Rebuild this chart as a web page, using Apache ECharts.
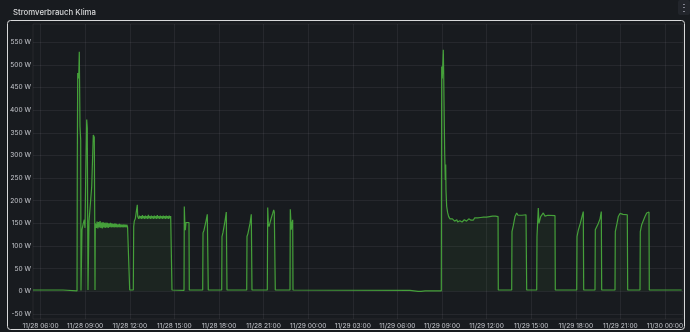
<!DOCTYPE html>
<html><head><meta charset="utf-8">
<script src="https://cdn.jsdelivr.net/npm/echarts@6/dist/echarts.min.js"></script>
<style>html,body{margin:0;padding:0;background:#181b1f;}#c{width:690px;height:332px;}</style>
</head><body><div id="c"></div>
<script>
const panelTitle = 'Stromverbrauch Klima';
const unit = ' W';
// x axis in hours since 11/28 00:00
const tickHours = [6,9,12,15,18,21,24,27,30,33,36,39,42,45,48];
const tickLabels = ['11/28 06:00','11/28 09:00','11/28 12:00','11/28 15:00','11/28 18:00','11/28 21:00','11/29 00:00','11/29 03:00','11/29 06:00','11/29 09:00','11/29 12:00','11/29 15:00','11/29 18:00','11/29 21:00','11/30 00:00'];
const yTicks = [-50,0,50,100,150,200,250,300,350,400,450,500,550];

const morning28 = [[5.489,3],[7.507,3],[7.527,1],[8.449,1],[8.469,290],[8.496,482],[8.563,470],[8.603,529],[8.650,364],[8.697,334],[8.717,2],[8.765,3],[8.785,136],[8.872,150],[8.939,158],[8.986,140],[9.034,253],[9.101,379],[9.141,360],[9.188,3],[9.235,3],[9.256,154],[9.370,158],[9.437,231],[9.545,345],[9.612,340],[9.639,173],[9.659,3],[9.679,150],[9.706,154]];
const block28a = [[9.72,153],[9.75,140],[9.80,154],[9.85,139],[9.90,153],[9.95,141],[10.00,155],[10.05,140],[10.10,152],[10.15,139],[10.20,153],[10.25,141],[10.30,151],[10.35,140],[10.40,152],[10.45,141],[10.50,151],[10.55,140],[10.60,150],[10.65,142],[10.70,151],[10.75,141],[10.80,150],[10.85,142],[10.90,149],[10.95,141],[11.00,150],[11.05,142],[11.10,149],[11.15,141],[11.20,148],[11.25,142],[11.30,149],[11.35,141],[11.40,148],[11.45,142],[11.50,147],[11.55,141],[11.60,148],[11.65,142],[11.70,147],[11.75,141],[11.80,147],[11.85,142],[11.90,146],[11.95,142],[11.966,143],[11.993,3],[12.235,3]];
const block28b = [[12.262,143],[12.302,155],[12.369,160],[12.463,162],[12.504,191],[12.531,165],[12.55,166],[12.60,160],[12.65,167],[12.70,161],[12.75,166],[12.80,160],[12.85,168],[12.90,161],[12.95,166],[13.00,160],[13.05,167],[13.10,161],[13.15,166],[13.20,160],[13.25,169],[13.30,161],[13.35,166],[13.40,160],[13.45,167],[13.50,161],[13.55,166],[13.60,160],[13.65,167],[13.70,161],[13.75,166],[13.80,160],[13.85,168],[13.90,161],[13.95,166],[14.00,160],[14.05,167],[14.10,161],[14.15,166],[14.20,160],[14.25,167],[14.30,161],[14.35,166],[14.40,160],[14.45,167],[14.50,161],[14.55,166],[14.60,160],[14.65,167],[14.70,161],[14.75,166],[14.80,162],[14.818,164],[14.838,3]];
const cycles28 = [[14.872,1],[15.646,2],[15.666,187],[15.713,140],[15.733,135],[15.780,152],[15.982,152],[16.002,3],[16.903,3],[16.924,129],[16.991,135],[17.125,155],[17.213,170],[17.260,173],[17.280,3],[18.181,3],[18.201,121],[18.269,130],[18.403,155],[18.491,175],[18.518,178],[18.538,3],[19.863,3],[19.883,121],[19.950,128],[20.085,150],[20.172,170],[20.199,174],[20.219,3],[21.249,3],[21.276,185],[21.316,150],[21.363,143],[21.498,160],[21.612,172],[21.679,180],[21.719,175],[21.766,176],[21.787,3],[22.776,3],[22.796,181],[22.863,136],[22.910,150],[22.957,158],[22.977,3]];
const night = [[30.847,2],[30.98,1],[31.39,0],[31.52,-1],[31.59,0],[31.86,1],[32.952,1]];
const morning29 = [[32.979,496],[33.020,470],[33.087,533],[33.114,480],[33.134,423],[33.181,305],[33.221,246],[33.248,280],[33.268,224],[33.315,187],[33.383,173],[33.450,165],[33.537,160],[33.6,162],[33.65,157],[33.7,160],[33.75,156],[33.8,160],[33.85,155],[33.9,158],[33.95,154],[34.0,158],[34.05,153],[34.1,156],[34.15,152],[34.2,156],[34.25,152],[34.3,156],[34.35,153],[34.4,157],[34.45,153],[34.5,158],[34.55,154],[34.6,158],[34.65,155],[34.7,159],[34.75,156],[34.8,160],[34.85,156],[34.9,160],[34.95,157],[35.0,161],[35.1,157],[35.2,162],[35.3,158],[35.4,162],[35.5,159],[35.6,163],[35.7,159],[35.8,164],[35.9,160],[36.0,164],[36.1,161],[36.2,165],[36.3,161],[36.4,166],[36.5,162],[36.6,166],[36.7,163],[36.77,165],[36.786,3]];
const cycles29 = [[37.687,3],[37.707,132],[37.795,145],[37.910,165],[38.024,173],[38.112,168],[38.246,170],[38.381,168],[38.650,169],[38.697,3],[39.369,3],[39.389,121],[39.477,184],[39.523,150],[39.638,165],[39.813,173],[39.927,166],[40.129,168],[40.600,167],[40.620,3],[42.060,3],[42.080,121],[42.168,135],[42.302,150],[42.416,165],[42.504,176],[42.531,3],[43.290,3],[43.311,136],[43.405,140],[43.513,150],[43.628,160],[43.715,176],[43.741,3],[44.636,3],[44.656,132],[44.771,150],[44.858,165],[44.973,172],[45.087,176],[45.175,170],[45.309,172],[45.463,169],[45.490,3],[46.318,3],[46.338,132],[46.432,147],[46.539,150],[46.654,165],[46.768,173],[46.875,176],[46.922,175],[46.943,3],[49.122,3]];

const series = [].concat(morning28, block28a, block28b, cycles28, night, morning29, cycles29);

const chart = echarts.init(document.getElementById('c'), null, {renderer:'canvas'});
const font = 'Inter, "Noto Sans", sans-serif';
const gridColor = 'rgba(204,204,220,0.08)';
chart.setOption({
  backgroundColor: '#181b1f',
  animation: false,
  title: {text: panelTitle, left: 8, top: 4, textStyle: {fontFamily: font, fontSize: 7.8, fontWeight: 500, color: '#d8d9da'}},
  graphic: [
    {type:'rect', shape:{x:7.5, y:20.5, width:677, height:309, r:3}, style:{fill:'none', stroke:'#d8d9da', lineWidth:1}, z:100},
    {type:'rect', shape:{x:678, y:0, width:12, height:15, r:2}, style:{fill:'#22252b'}, z:100},
    {type:'text', x:684, y:8, style:{text:'⋮', fill:'#ccccdc', font:'10px '+font, align:'center', verticalAlign:'middle'}, z:101}
  ],
  grid: {left: 33, right: 7, top: 24, bottom: 13, show: true, borderColor: gridColor, borderWidth: 1},
  xAxis: {
    type: 'value', min: 5.489, max: 49.21,
    axisLine: {show: false},
    axisTick: {show: false, customValues: tickHours},
    axisLabel: {customValues: tickHours, color: '#c7c9cf', fontFamily: font, fontSize: 6.6, margin: 4,
      formatter: v => tickLabels[tickHours.indexOf(v)] || ''},
    splitLine: {show: true, lineStyle: {color: gridColor, width: 1}}
  },
  yAxis: {
    type: 'value', min: -61, max: 590,
    axisLine: {show: false},
    axisTick: {show: false, customValues: yTicks},
    axisLabel: {customValues: yTicks, color: '#c7c9cf', fontFamily: font, fontSize: 6.6, margin: 2,
      formatter: v => v + unit},
    splitLine: {show: true, lineStyle: {color: gridColor, width: 1}}
  },
  series: [{
    type: 'line', data: series, showSymbol: false, symbol: 'none',
    lineStyle: {color: '#45a03a', width: 1.2},
    areaStyle: {color: 'rgba(86,166,75,0.1)'},
    itemStyle: {color: '#45a03a'}
  }]
});
</script></body></html>
